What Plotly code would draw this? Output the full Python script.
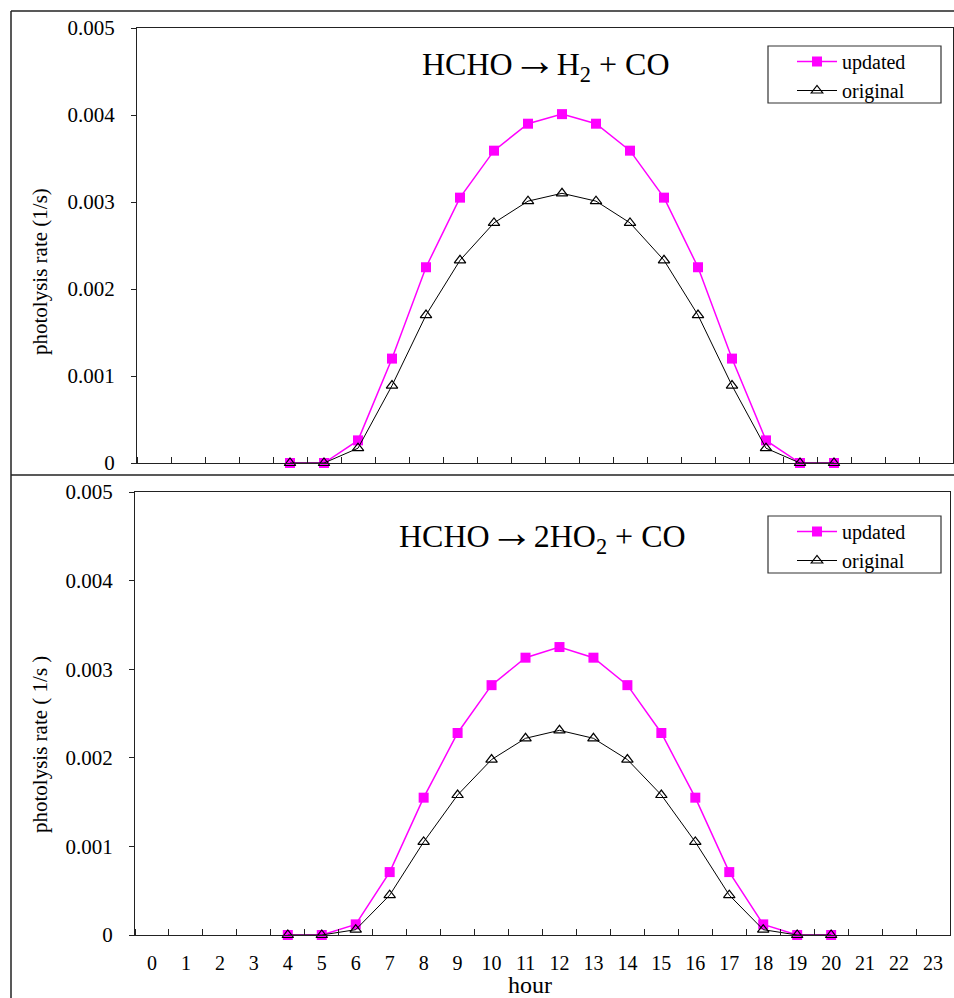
import plotly.graph_objects as go

hours = list(range(4, 21))
top_updated = [0, 0, 0.00026, 0.00120, 0.00225, 0.00305, 0.00359, 0.00390, 0.00401,
               0.00390, 0.00359, 0.00305, 0.00225, 0.00120, 0.00026, 0, 0]
top_original = [0, 0, 0.00017, 0.00089, 0.00170, 0.00233, 0.00276, 0.00301, 0.00310,
                0.00301, 0.00276, 0.00233, 0.00170, 0.00089, 0.00017, 0, 0]
bot_updated = [0, 0, 0.00012, 0.00071, 0.00155, 0.00228, 0.00282, 0.00313, 0.00325,
               0.00313, 0.00282, 0.00228, 0.00155, 0.00071, 0.00012, 0, 0]
bot_original = [0, 0, 0.00006, 0.00045, 0.00105, 0.00158, 0.00198, 0.00222, 0.00231,
                0.00222, 0.00198, 0.00158, 0.00105, 0.00045, 0.00006, 0, 0]

x_ticks = list(range(24))
x_labels = [str(h) for h in x_ticks]
y_ticks = [0, 0.001, 0.002, 0.003, 0.004, 0.005]
y_labels = ["0", "0.001", "0.002", "0.003", "0.004", "0.005"]

W, H = 954, 998
FONT = "Liberation Serif"
MAG = "#FF00FF"

def px_x(v):
    return v / W

def px_y(v):
    return 1 - v / H

fig = go.Figure()

def add_pair(upd, org, xa, ya, leg):
    fig.add_trace(go.Scatter(x=hours, y=upd, mode="lines+markers", name="updated",
                             xaxis=xa, yaxis=ya, legend=leg, cliponaxis=False,
                             line=dict(color=MAG, width=1.5),
                             marker=dict(symbol="square", size=10, color=MAG)))
    fig.add_trace(go.Scatter(x=hours, y=org, mode="lines+markers", name="original",
                             xaxis=xa, yaxis=ya, legend=leg, cliponaxis=False,
                             line=dict(color="black", width=1),
                             marker=dict(symbol="triangle-up-open", size=10, color="black",
                                         line=dict(width=1.2, color="black"))))

add_pair(top_updated, top_original, "x", "y", "legend")
add_pair(bot_updated, bot_original, "x2", "y2", "legend2")

xcommon = dict(range=[-0.5, 23.5], tickmode="array", tickvals=x_ticks, ticktext=x_labels,
               ticks="", showgrid=False, zeroline=False, showline=True, mirror=True,
               linecolor="#222", linewidth=1, automargin=False,
               minor=dict(ticks="inside", tick0=-0.5, dtick=1, ticklen=6,
                          tickcolor="#222", showgrid=False),
               tickfont=dict(family=FONT, size=20, color="black"))
ycommon = dict(range=[0, 0.005], tickmode="array", tickvals=y_ticks, ticktext=y_labels,
               ticks="outside", ticklen=5, tickcolor="#222", showgrid=False, zeroline=False,
               showline=True, mirror=True, linecolor="#222", linewidth=1, automargin=False,
               ticklabelstandoff=12,
               tickfont=dict(family=FONT, size=21, color="black"))

legcommon = dict(xanchor="left", yanchor="top", borderwidth=0, bgcolor="rgba(0,0,0,0)",
                 font=dict(family=FONT, size=20, color="black"),
                 itemwidth=40, tracegroupgap=0)

fig.update_layout(
    width=W, height=H,
    margin=dict(l=0, r=0, t=0, b=0, autoexpand=False),
    paper_bgcolor="white", plot_bgcolor="white",
    xaxis=dict(domain=[px_x(137), px_x(953)], anchor="y", showticklabels=False, **xcommon),
    yaxis=dict(domain=[px_y(463), px_y(28)], anchor="x", **ycommon),
    xaxis2=dict(domain=[px_x(135), px_x(950)], anchor="y2", showticklabels=True,
                ticklabelstandoff=10, **xcommon),
    yaxis2=dict(domain=[px_y(935), px_y(492)], anchor="x2", **ycommon),
    legend=dict(x=px_x(792), y=px_y(42), **legcommon),
    legend2=dict(x=px_x(792), y=px_y(512), **legcommon),
    showlegend=True,
)

# legend frames
box = dict(color="#333", width=1.2)
fig.add_shape(type="rect", xref="paper", yref="paper", x0=px_x(768), x1=px_x(941),
              y0=px_y(103), y1=px_y(46), line=box)
fig.add_shape(type="rect", xref="paper", yref="paper", x0=px_x(768), x1=px_x(941),
              y0=px_y(573), y1=px_y(516), line=box)

ARROW = '<span style="font-size:44px">\u2192</span>'
annots = [
    dict(text="HCHO" + ARROW + "H<sub>2</sub> + CO", x=px_x(545), y=px_y(61)),
    dict(text="HCHO" + ARROW + "2HO<sub>2</sub> + CO", x=px_x(542), y=px_y(533)),
]
for a in annots:
    fig.add_annotation(text=a["text"], x=a["x"], y=a["y"], xref="paper", yref="paper",
                       xanchor="center", yanchor="middle", showarrow=False,
                       font=dict(family=FONT, size=32, color="black"))

fig.add_annotation(text="photolysis rate (1/s)", x=px_x(40), y=px_y(272), xref="paper",
                   yref="paper", textangle=-90, showarrow=False, xanchor="center",
                   yanchor="middle", font=dict(family=FONT, size=21, color="black"))
fig.add_annotation(text="photolysis rate ( 1/s )", x=px_x(40), y=px_y(745), xref="paper",
                   yref="paper", textangle=-90, showarrow=False, xanchor="center",
                   yanchor="middle", font=dict(family=FONT, size=21, color="black"))
fig.add_annotation(text="hour", x=px_x(530), y=px_y(985), xref="paper", yref="paper",
                   showarrow=False, xanchor="center", yanchor="middle",
                   font=dict(family=FONT, size=24, color="black"))

# outer frame lines
frame = dict(color="#222", width=1.5)
fig.add_shape(type="line", xref="paper", yref="paper", x0=px_x(11), x1=1,
              y0=px_y(11), y1=px_y(11), line=frame)
fig.add_shape(type="line", xref="paper", yref="paper", x0=px_x(11), x1=px_x(11),
              y0=px_y(11), y1=0, line=frame)
fig.add_shape(type="line", xref="paper", yref="paper", x0=px_x(11), x1=1,
              y0=px_y(475), y1=px_y(475), line=frame)

fig.write_html("out.html")
